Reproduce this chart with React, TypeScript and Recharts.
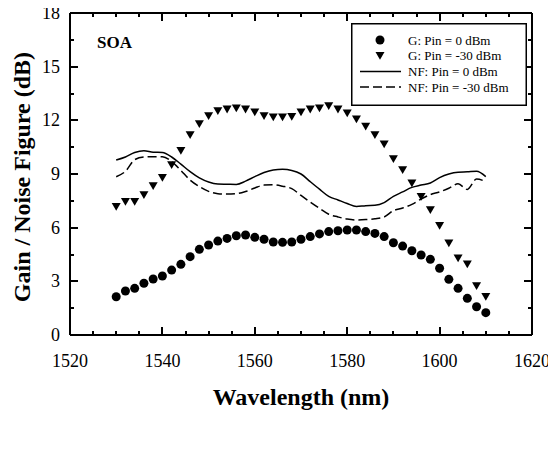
import React from 'react'
import { ComposedChart, XAxis, YAxis, Scatter, Line, Legend } from 'recharts'

const FONT = 'Liberation Serif'

const WAVELENGTH = [
  1530, 1532, 1534, 1536, 1538, 1540, 1542, 1544, 1546, 1548,
  1550, 1552, 1554, 1556, 1558, 1560, 1562, 1564, 1566, 1568,
  1570, 1572, 1574, 1576, 1578, 1580, 1582, 1584, 1586, 1588,
  1590, 1592, 1594, 1596, 1598, 1600, 1602, 1604, 1606, 1608, 1610,
]

// gain, Pin = 0 dBm (circles)
const G_PIN_0 = [
  2.14, 2.46, 2.61, 2.89, 3.13, 3.3, 3.63, 3.95, 4.38, 4.79,
  5.03, 5.25, 5.4, 5.55, 5.59, 5.46, 5.35, 5.2, 5.18, 5.2,
  5.35, 5.5, 5.65, 5.78, 5.83, 5.87, 5.87, 5.78, 5.68, 5.5,
  5.16, 4.97, 4.71, 4.47, 4.23, 3.73, 3.11, 2.61, 2.05, 1.58, 1.25,
]

// gain, Pin = -30 dBm (triangles)
const G_PIN_30 = [
  7.17, 7.45, 7.45, 7.83, 8.33, 8.79, 9.5, 10.3, 11.18, 11.79,
  12.24, 12.52, 12.61, 12.67, 12.61, 12.45, 12.24, 12.17, 12.17, 12.2,
  12.45, 12.61, 12.67, 12.8, 12.61, 12.39, 12.06, 11.65, 11.18, 10.66,
  9.84, 9.22, 8.48, 7.73, 6.99, 6.11, 5.13, 4.29, 3.95, 2.74, 2.14,
]

// noise figure, Pin = 0 dBm (solid)
const NF_PIN_0 = [
  9.78, 9.95, 10.2, 10.3, 10.22, 10.2, 9.95, 9.55, 9.13, 8.78,
  8.55, 8.44, 8.43, 8.42, 8.6, 8.85, 9.08, 9.22, 9.26, 9.2,
  9.0, 8.57, 8.15, 7.75, 7.55, 7.35, 7.18, 7.23, 7.25, 7.4,
  7.75, 8.0, 8.25, 8.38, 8.5, 8.8, 9.0, 9.1, 9.12, 9.15, 8.85,
]

// noise figure, Pin = -30 dBm (dashed)
const NF_PIN_30 = [
  8.85, 9.15, 9.8, 9.95, 9.97, 9.97, 9.7, 9.2, 8.66, 8.3,
  8.03, 7.9, 7.88, 7.9, 8.02, 8.22, 8.38, 8.4, 8.32, 8.18,
  7.8, 7.43, 7.08, 6.75, 6.6, 6.48, 6.43, 6.45, 6.5, 6.6,
  6.95, 7.1, 7.3, 7.6, 7.85, 8.0, 8.2, 8.45, 8.14, 8.72, 8.57,
]

const X_TICKS = [
  1520, 1525, 1530, 1535, 1540, 1545, 1550, 1555, 1560, 1565, 1570,
  1575, 1580, 1585, 1590, 1595, 1600, 1605, 1610, 1615, 1620,
]
const Y_TICKS = [0, 1.5, 3, 4.5, 6, 7.5, 9, 10.5, 12, 13.5, 15, 16.5, 18]

const LEGEND_ITEMS = [
  { label: 'G: Pin = 0 dBm', kind: 'circle' },
  { label: 'G: Pin = -30 dBm', kind: 'triangle' },
  { label: 'NF: Pin = 0 dBm', kind: 'solid' },
  { label: 'NF: Pin = -30 dBm', kind: 'dashed' },
]

const toPoints = (ys: number[]) => WAVELENGTH.map((x, i) => ({ x, y: ys[i] }))

const CircleDot = (p: any) => <circle cx={p.cx} cy={p.cy} r={4.5} fill="#000" />
const TriangleDot = (p: any) => (
  <path
    d={`M${p.cx - 4.5},${p.cy - 3.8} L${p.cx + 4.5},${p.cy - 3.8} L${p.cx},${p.cy + 4} Z`}
    fill="#000"
  />
)

// inward tick marks as small filled rects
const mark = (x: number, y: number, w: number, h: number) => (
  <rect x={Math.round(x)} y={Math.round(y)} width={w} height={h} fill="#000" />
)

const bottomTick = ({ x, y, payload }: any) => {
  const major = payload.value % 20 === 0
  const len = major ? 8 : 4
  return (
    <g>
      {mark(x - 1, y - len, 2, len)}
      {major && (
        <text x={x} y={y + 32} textAnchor="middle" fontSize={18} fontFamily={FONT} fill="#000">
          {payload.value}
        </text>
      )}
    </g>
  )
}

const topTick = ({ x, y, payload }: any) => {
  const len = payload.value % 20 === 0 ? 8 : 4
  return <g>{mark(x - 1, y, 2, len)}</g>
}

const leftTick = ({ x, y, payload }: any) => {
  const major = payload.value % 3 === 0
  const len = major ? 8 : 4
  return (
    <g>
      {mark(x, y - 1, len, 2)}
      {major && (
        <text x={x - 10} y={y + 6} textAnchor="end" fontSize={18} fontFamily={FONT} fill="#000">
          {payload.value}
        </text>
      )}
    </g>
  )
}

const rightTick = ({ x, y, payload }: any) => {
  const len = payload.value % 3 === 0 ? 8 : 4
  return <g>{mark(x - len, y - 1, len, 2)}</g>
}

function LegendBox() {
  return (
    <svg width={176} height={83} style={{ display: 'block' }}>
      <rect x={0.75} y={0.75} width={174.5} height={81.5} fill="#fff" stroke="#000" strokeWidth={1.5} />
      {LEGEND_ITEMS.map((item, i) => {
        const cy = 17 + i * 15.7
        return (
          <g key={item.label}>
            {item.kind === 'circle' && <CircleDot cx={29} cy={cy} />}
            {item.kind === 'triangle' && <TriangleDot cx={29} cy={cy} />}
            {item.kind === 'solid' && (
              <line x1={9} x2={50} y1={cy} y2={cy} stroke="#000" strokeWidth={1.5} />
            )}
            {item.kind === 'dashed' && (
              <line x1={9} x2={50} y1={cy} y2={cy} stroke="#000" strokeWidth={1.5} strokeDasharray="9 4" />
            )}
            <text x={57} y={cy + 4.5} fontSize={13} fontFamily={FONT} fill="#000">
              {item.label}
            </text>
          </g>
        )
      })}
    </svg>
  )
}

const axisStroke = { stroke: '#000', strokeWidth: 2 }

export default function App() {
  return (
    <div style={{ position: 'relative', width: 556, height: 472, margin: -8 }}>
      <ComposedChart width={556} height={472} margin={{ top: 12, right: 23, bottom: 0, left: 0 }}>
        <XAxis
          xAxisId="bottom"
          dataKey="x"
          type="number"
          domain={[1520, 1620]}
          allowDataOverflow
          ticks={X_TICKS}
          interval={0}
          height={137}
          tickSize={0}
          tickMargin={0}
          tickLine={false}
          tick={bottomTick}
          axisLine={axisStroke}
        />
        <XAxis
          xAxisId="top"
          orientation="top"
          dataKey="x"
          type="number"
          domain={[1520, 1620]}
          allowDataOverflow
          ticks={X_TICKS}
          interval={0}
          height={1}
          tickSize={0}
          tickMargin={0}
          tickLine={false}
          tick={topTick}
          axisLine={axisStroke}
        />
        <YAxis
          yAxisId="left"
          type="number"
          domain={[0, 18]}
          allowDataOverflow
          ticks={Y_TICKS}
          interval={0}
          width={70}
          tickSize={0}
          tickMargin={0}
          tickLine={false}
          tick={leftTick}
          axisLine={axisStroke}
        />
        <YAxis
          yAxisId="right"
          orientation="right"
          type="number"
          domain={[0, 18]}
          allowDataOverflow
          ticks={Y_TICKS}
          interval={0}
          width={1}
          tickSize={0}
          tickMargin={0}
          tickLine={false}
          tick={rightTick}
          axisLine={axisStroke}
        />
        <Line
          xAxisId="bottom"
          yAxisId="left"
          data={toPoints(NF_PIN_0)}
          dataKey="y"
          type="monotone"
          stroke="#000"
          strokeWidth={1.5}
          dot={false}
          isAnimationActive={false}
        />
        <Line
          xAxisId="bottom"
          yAxisId="left"
          data={toPoints(NF_PIN_30)}
          dataKey="y"
          type="monotone"
          stroke="#000"
          strokeWidth={1.5}
          strokeDasharray="9 4"
          dot={false}
          isAnimationActive={false}
        />
        <Scatter
          xAxisId="bottom"
          yAxisId="left"
          data={toPoints(G_PIN_0)}
          dataKey="y"
          shape={CircleDot}
          isAnimationActive={false}
        />
        <Scatter
          xAxisId="bottom"
          yAxisId="left"
          data={toPoints(G_PIN_30)}
          dataKey="y"
          shape={TriangleDot}
          isAnimationActive={false}
        />
        <Legend
          layout="vertical"
          align="center"
          verticalAlign="middle"
          content={() => <LegendBox />}
          wrapperStyle={{ left: 351, top: 23, width: 176, height: 83 }}
        />
      </ComposedChart>

      {/* axis titles and panel tag */}
      <div
        style={{
          position: 'absolute',
          left: 70,
          top: 383,
          width: 462,
          textAlign: 'center',
          fontFamily: FONT,
          fontWeight: 'bold',
          fontSize: 24,
          lineHeight: '28px',
          color: '#000',
        }}
      >
        Wavelength (nm)
      </div>
      <div
        style={{
          position: 'absolute',
          left: 22 - 150,
          top: 177 - 14,
          width: 300,
          height: 28,
          textAlign: 'center',
          fontFamily: FONT,
          fontWeight: 'bold',
          fontSize: 24,
          lineHeight: '28px',
          color: '#000',
          transform: 'rotate(-90deg)',
          whiteSpace: 'nowrap',
        }}
      >
        Gain / Noise Figure (dB)
      </div>
      <div
        style={{
          position: 'absolute',
          left: 97,
          top: 33,
          fontFamily: FONT,
          fontWeight: 'bold',
          fontSize: 17,
          lineHeight: '20px',
          color: '#000',
        }}
      >
        SOA
      </div>
    </div>
  )
}
